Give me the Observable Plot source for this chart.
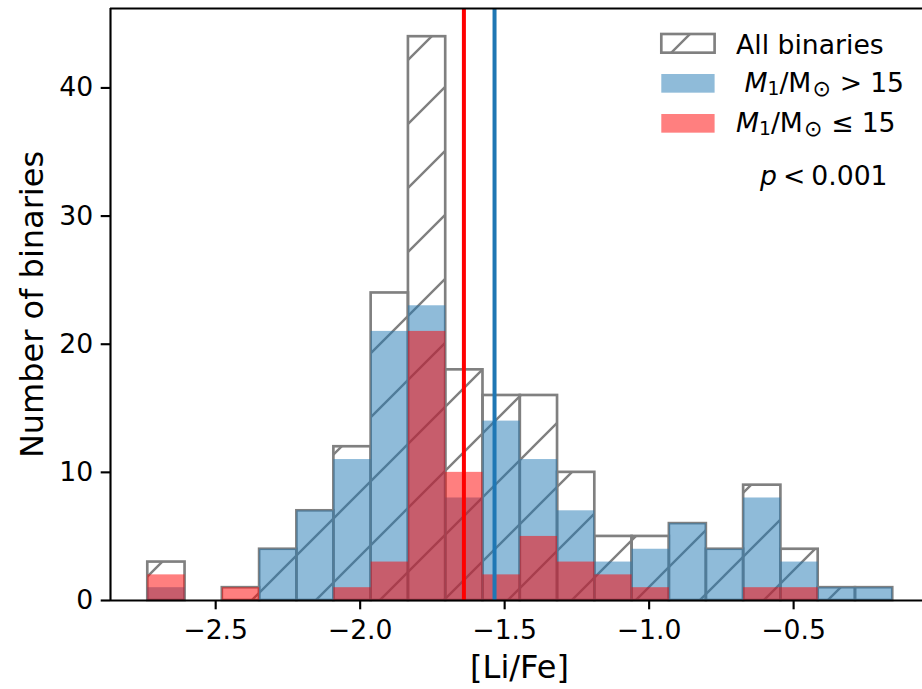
<!DOCTYPE html>
<html>
<head>
<meta charset="utf-8">
<script src="https://cdn.jsdelivr.net/npm/d3@7"></script>
<script src="https://cdn.jsdelivr.net/npm/@observablehq/plot@0.6"></script>
<style>
  html, body { margin: 0; padding: 0; background: #fff; }
  #chart { width: 922px; height: 689px; }
</style>
</head>
<body>
<div id="chart"></div>
<script>
// Histogram bin edges in [Li/Fe] (20 equal-width bins)
const binEdges = [-2.735, -2.606, -2.477, -2.348, -2.219, -2.091, -1.962, -1.833, -1.704, -1.575,
                  -1.446, -1.317, -1.188, -1.059, -0.930, -0.802, -0.673, -0.544, -0.415, -0.286, -0.157];
// Counts per bin
const allCounts  = [3, 0, 1, 4, 7, 12, 24, 44, 18, 16, 16, 10, 5, 5, 6, 4, 9, 4, 1, 1];
const highMassCounts = [1, 0, 0, 4, 7, 11, 21, 23, 8, 14, 11, 7, 3, 4, 6, 4, 8, 3, 1, 1];
const lowMassCounts  = [2, 0, 1, 0, 0, 1, 3, 21, 10, 2, 5, 3, 2, 1, 0, 0, 1, 1, 0, 0];
// Median [Li/Fe] of each mass group
const medianLow = -1.641;
const medianHigh = -1.535;
// Axes
const xTicks = [-2.5, -2.0, -1.5, -1.0, -0.5];
const yTicks = [0, 10, 20, 30, 40];
const xDomain = [-2.864, -0.054];
const yDomain = [0, 46.2];

const GREY = "#808080";
const BLUE = "#1f77b4";
const RED = "#ff0000";
const FONT = "'DejaVu Sans', sans-serif";

const bins = allCounts.map((n, i) => ({
  x1: binEdges[i], x2: binEdges[i + 1], base: 0,
  all: n, high: highMassCounts[i], low: lowMassCounts[i]
}));

const fmt = d => d.toFixed(1).replace("-", "\u2212");

const svg = Plot.plot({
  width: 922,
  height: 689,
  marginLeft: 110,
  marginRight: 0,
  marginTop: 8,
  marginBottom: 89,
  style: {fontFamily: FONT, fontSize: "26.67px", background: "white", color: "black"},
  x: {domain: xDomain},
  y: {domain: yDomain},
  marks: [
    Plot.rect(bins.filter(d => d.all > 0), {x1: "x1", x2: "x2", y1: "base", y2: "all",
      fill: "url(#hatch)", stroke: GREY, strokeWidth: 2.67}),
    Plot.rect(bins.filter(d => d.high > 0), {x1: "x1", x2: "x2", y1: "base", y2: "high",
      fill: BLUE, fillOpacity: 0.5}),
    Plot.rect(bins.filter(d => d.low > 0), {x1: "x1", x2: "x2", y1: "base", y2: "low",
      fill: RED, fillOpacity: 0.5}),
    Plot.ruleX([medianLow], {stroke: RED, strokeWidth: 4}),
    Plot.ruleX([medianHigh], {stroke: BLUE, strokeWidth: 4}),
    // spines (left, bottom, top)
    Plot.ruleX([xDomain[0]], {stroke: "black", strokeWidth: 2.13}),
    Plot.ruleY([yDomain[0]], {stroke: "black", strokeWidth: 2.13}),
    Plot.ruleY([yDomain[1]], {stroke: "black", strokeWidth: 2.13}),
    Plot.axisX(xTicks, {tickSize: 9.3, tickPadding: 10, tickFormat: fmt, strokeWidth: 2.13,
      label: null, fontSize: 26.67}),
    Plot.axisY(yTicks, {tickSize: 9.3, tickPadding: 8, strokeWidth: 2.13,
      label: null, fontSize: 26.67}),
    Plot.text(["[Li/Fe]"], {frameAnchor: "bottom", dx: 3, dy: 67.5, fontSize: 32,
      lineAnchor: "middle", textAnchor: "middle"}),
    Plot.text(["Number of binaries"], {frameAnchor: "left", rotate: -90, dx: -78, fontSize: 32,
      lineAnchor: "middle", textAnchor: "middle"})
  ]
});

// Diagonal hatch pattern for the "All binaries" histogram
const root = d3.select(svg);
const defs = root.insert("defs", ":first-child");
const pat = defs.append("pattern")
  .attr("id", "hatch")
  .attr("patternUnits", "userSpaceOnUse")
  .attr("x", 20).attr("y", 0)
  .attr("width", 64).attr("height", 64);
pat.append("path")
  .attr("d", "M0,64L64,0M-8,8L8,-8M56,72L72,56")
  .attr("stroke", GREY)
  .attr("stroke-width", 2.4)
  .attr("fill", "none");

// Legend
const leg = root.append("g")
  .attr("font-family", FONT)
  .attr("font-size", 26.67)
  .attr("text-anchor", "start")
  .attr("fill", "black");
const swX = 661.3, swW = 53.3, swH = 18.67;
leg.append("rect").attr("x", swX).attr("y", 34).attr("width", swW).attr("height", swH)
  .attr("fill", "url(#hatch)").attr("stroke", GREY).attr("stroke-width", 2.67);
leg.append("rect").attr("x", swX).attr("y", 74).attr("width", swW).attr("height", swH)
  .attr("fill", BLUE).attr("fill-opacity", 0.5);
leg.append("rect").attr("x", swX).attr("y", 114).attr("width", swW).attr("height", swH)
  .attr("fill", RED).attr("fill-opacity", 0.5);

leg.append("text").attr("x", 736).attr("y", 53.5).text("All binaries");

function massLabel(x, y, rel) {
  const t = leg.append("text").attr("x", x).attr("y", y);
  t.append("tspan").attr("font-style", "italic").text("M");
  t.append("tspan").attr("font-size", 18.7).attr("dy", 3.5).text("1");
  t.append("tspan").attr("dy", -3.5).text("/M");
  t.append("tspan").attr("font-size", 22).attr("dy", 4).attr("dx", 1).text("\u2299");
  t.append("tspan").attr("dy", -4).attr("dx", 9).text(rel);
  t.append("tspan").attr("dx", 8).text("15");
}
massLabel(744.5, 91.7, ">");
massLabel(736, 131.7, "\u2264");

const p = leg.append("text").attr("x", 760).attr("y", 185);
p.append("tspan").attr("font-style", "italic").text("p");
p.append("tspan").attr("dx", 6).text("<");
p.append("tspan").attr("dx", 6).text("0.001");

document.getElementById("chart").appendChild(svg);
</script>
</body>
</html>
